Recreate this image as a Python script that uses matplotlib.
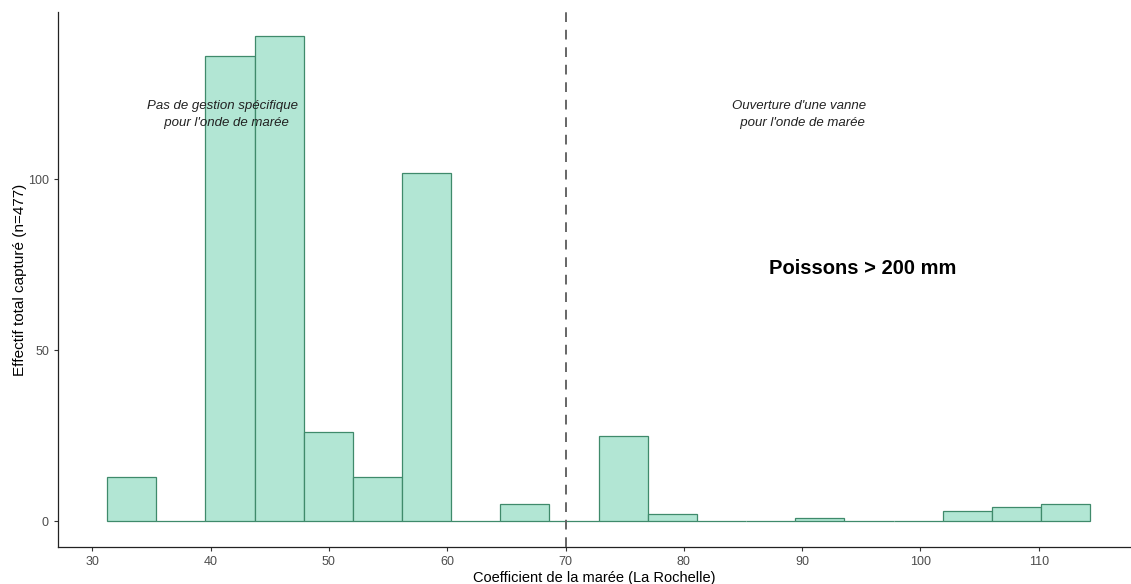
import numpy as np
import matplotlib
matplotlib.use("Agg")
import matplotlib.pyplot as plt

plt.rcParams["font.family"] = ["Liberation Sans", "DejaVu Sans"]

# histogram of catches by tidal coefficient, 20 bins
bin_lo = 31.25
bin_hi = 114.35
counts = [13, 0, 136, 142, 26, 13, 102, 0, 5, 0,
          25, 2, 0, 0, 1, 0, 0, 3, 4, 5]
edges = np.linspace(bin_lo, bin_hi, len(counts) + 1)

xticks = [30, 40, 50, 60, 70, 80, 90, 100, 110]
yticks = [0, 50, 100]
threshold = 70

fig = plt.figure(figsize=(11.31, 5.84), dpi=100)
ax = fig.add_axes([0.0513, 0.0634, 0.9487, 0.9156])

ax.bar(edges[:-1], counts, width=np.diff(edges), align="edge",
       color="#b2e6d4", edgecolor="#3f8a6b", linewidth=0.9, zorder=2)

ax.axvline(threshold, color="#666666", linestyle=(0, (5, 4)),
           linewidth=1.4, zorder=3)

ax.text(41.0, 119, "Pas de gestion spécifique\n  pour l'onde de marée",
        style="italic", fontsize=9.5, color="#222222", ha="center",
        va="center", linespacing=1.5, zorder=4)
ax.text(89.7, 119, "Ouverture d'une vanne\n  pour l'onde de marée",
        style="italic", fontsize=9.5, color="#222222", ha="center",
        va="center", linespacing=1.5, zorder=4)
ax.text(95.1, 74, "Poissons > 200 mm", fontsize=14.5, fontweight="bold",
        color="black", ha="center", va="center", zorder=4)

ax.set_xlim(27.1, 117.8)
ax.set_ylim(-7.6, 148.9)
ax.set_xticks(xticks)
ax.set_yticks(yticks)

for side in ("top", "right"):
    ax.spines[side].set_visible(False)
for side in ("left", "bottom"):
    ax.spines[side].set_color("#222222")
    ax.spines[side].set_linewidth(0.9)
ax.tick_params(colors="#333333", labelcolor="#4d4d4d", labelsize=9,
               length=3, width=0.8)

ax.set_xlabel("Coefficient de la marée (La Rochelle)", fontsize=10.5,
              labelpad=2)
ax.set_ylabel("Effectif total capturé (n=477)", fontsize=11, labelpad=1)

fig.savefig("out.png", dpi=100)
